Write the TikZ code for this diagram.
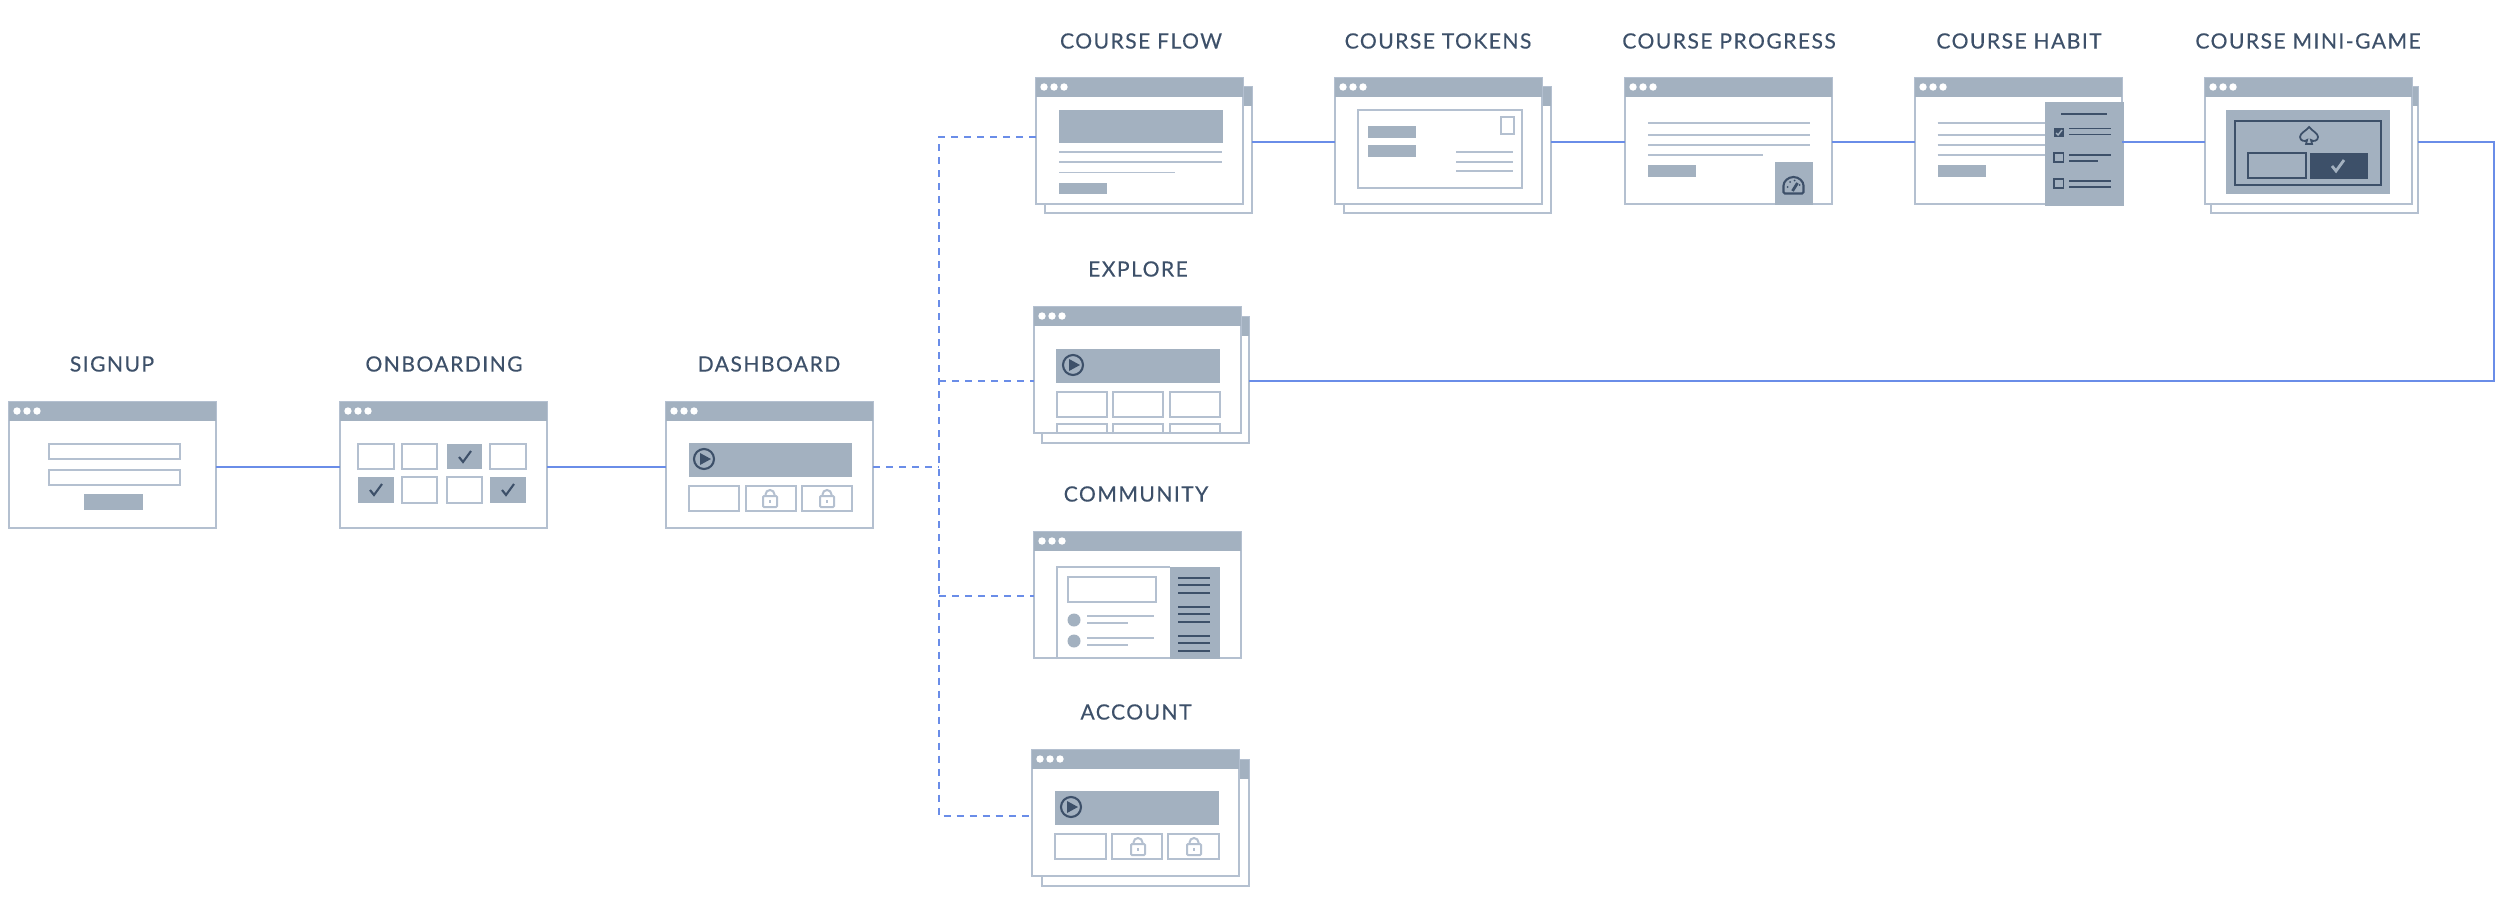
\documentclass[tikz,border=0pt]{standalone}
\usepackage{fontspec}
\setmainfont[LetterSpace=6.8,FakeBold=0.25]{Lato}
\definecolor{slate}{HTML}{A3B1C0}
\definecolor{edge}{HTML}{B4C0D0}
\definecolor{ink}{HTML}{3D5069}
\definecolor{link}{HTML}{6A8DE8}
\tikzset{
  window/.style={draw=edge,fill=white,line width=0.57pt,rectangle,inner sep=0pt,outer sep=0pt,
    minimum width=2.07cm,minimum height=1.26cm,anchor=north west},
  pagelabel/.style={text=ink,font=\fontsize{6}{7}\selectfont,inner sep=0pt},
  cell/.style={draw=edge,line width=0.57pt},
  rule/.style={draw=edge,line width=0.55pt},
  darkrule/.style={draw=ink,line width=0.5pt},
  flow/.style={draw=link,line width=0.57pt},
  dashflow/.style={flow,dash pattern=on 2pt off 1.7pt}
}
\newcommand{\screen}[3]{
  \node[window] (#1) at (#2,#3) {};
  \fill[slate] (#1.north west) rectangle ([shift={(0,19)}]#1.north east);
  \foreach \d in {8,18,28}
    \fill[white] ([shift={(\d,9)}]#1.north west) circle (0.037cm);
}
\newcommand{\playicon}[2]{
  \begin{scope}[shift={(#1,#2)}]
    \draw[ink,line width=0.6pt] (0,0) circle (0.1cm);
    \fill[ink] (-4,-6) -- (7,0) -- (-4,6) -- cycle;
  \end{scope}
}
\newcommand{\lockicon}[2]{
  \begin{scope}[shift={(#1,#2)}]
    \draw[cell,rounded corners=0.3pt] (-7,6) rectangle (7,17);
    \draw[cell] (-4.5,6) -- (-4.5,4.5) arc[start angle=180,end angle=0,radius=0.045cm] -- (4.5,6);
    \draw[cell] (0,10) -- (0,13);
  \end{scope}
}
\newcommand{\tickicon}[4][0.6pt]{
  \draw[#4,line width=#1] (#2-6,#3) -- (#2-2,#3+5) -- (#2+6,#3-6);
}
\begin{document}
\begin{tikzpicture}[x=0.01cm,y=-0.01cm]
  \useasboundingbox (0,0) rectangle (2500,903);
  \draw
    (112,364) node[pagelabel] (signuplabel){SIGNUP}
    (444,364) node[pagelabel] (onboardinglabel){ONBOARDING}
    (769,364) node[pagelabel] (dashboardlabel){DASHBOARD}
    (1141,41) node[pagelabel] (flowlabel){COURSE FLOW}
    (1438,41) node[pagelabel] (tokenslabel){COURSE TOKENS}
    (1729,41) node[pagelabel] (progresslabel){COURSE PROGRESS}
    (2019,41) node[pagelabel] (habitlabel){COURSE HABIT}
    (2308,41) node[pagelabel] (minigamelabel){COURSE MINI-GAME}
    (1138,269) node[pagelabel] (explorelabel){EXPLORE}
    (1136,494) node[pagelabel] (communitylabel){COMMUNITY}
    (1136,712) node[pagelabel] (accountlabel){ACCOUNT};

  % first row
  \screen{signup}{9}{402}
  \draw[cell] (49,444) rectangle (180,459);
  \draw[cell] (49,470) rectangle (180,485);
  \fill[slate] (84,494) rectangle (143,510);

  \screen{onboarding}{340}{402}
  \foreach \a/\b in {358/394,402/437,490/526}
    \draw[cell] (\a,444) rectangle (\b,469);
  \foreach \a/\b in {402/437,447/482}
    \draw[cell] (\a,477) rectangle (\b,503);
  \fill[slate] (447,444) rectangle (482,469);
  \fill[slate] (358,477) rectangle (394,503);
  \fill[slate] (490,477) rectangle (526,503);
  \tickicon{465}{457}{ink}
  \tickicon{376}{490}{ink}
  \tickicon{508}{490}{ink}

  \screen{dashboard}{666}{402}
  \fill[slate] (689,443) rectangle (852,477);
  \playicon{704}{459}
  \foreach \a/\b in {689/739,746/796,802/852}
    \draw[cell] (\a,486) rectangle (\b,511);
  \lockicon{770}{490}
  \lockicon{827}{490}

  % course row
  \screen{flowback}{1045}{87}
  \screen{flow}{1036}{78}
  \fill[slate] (1059,110) rectangle (1223,143);
  \draw[rule] (1059,152) -- (1222,152) (1059,162) -- (1222,162) (1059,172.5) -- (1175,172.5);
  \fill[slate] (1059,183) rectangle (1107,194);

  \screen{tokensback}{1344}{87}
  \screen{tokens}{1335}{78}
  \draw[cell] (1358,110) rectangle (1522,188);
  \fill[slate] (1368,126) rectangle (1416,138);
  \fill[slate] (1368,145) rectangle (1416,157);
  \draw[cell] (1501,117) rectangle (1514,134);
  \draw[rule] (1456,152) -- (1513,152) (1456,162) -- (1513,162) (1456,171) -- (1513,171);

  \screen{progress}{1625}{78}
  \draw[rule] (1648,123) -- (1810,123) (1648,135) -- (1810,135) (1648,145) -- (1810,145) (1648,155) -- (1763,155);
  \fill[slate] (1648,165) rectangle (1696,177);
  \fill[slate] (1775,162) rectangle (1813,205);
  \begin{scope}[shift={(1793.5,187)}]
    \draw[ink,line width=0.6pt,rounded corners=0.4pt] (-10,6.5) -- (-10,0) arc[start angle=180,end angle=0,radius=0.1cm] -- (10,6.5) -- cycle;
    \draw[ink,line width=0.8pt] (-1,4) -- (4,-4);
    \fill[ink] (-6,0) circle (0.01cm) (-3.5,-5) circle (0.01cm) (1,-6.5) circle (0.01cm) (6,-2) circle (0.01cm);
  \end{scope}

  \screen{habit}{1915}{78}
  \draw[rule] (1937.5,123) -- (2045,123) (1937.5,135) -- (2045,135) (1937.5,145) -- (2045,145) (1937.5,155) -- (2045,155);
  \fill[slate] (1937.5,165) rectangle (1986,177);
  \fill[slate] (2045,102) rectangle (2123.5,205.5);
  \draw[darkrule] (2061,114) -- (2107,114);
  \fill[ink] (2054,128) rectangle (2063.5,137);
  \draw[slate,line width=0.4pt] (2056,133) -- (2058,135) -- (2062,130);
  \draw[ink,line width=0.5pt] (2054,153) rectangle (2063.5,162);
  \draw[ink,line width=0.5pt] (2054,179) rectangle (2063.5,188);
  \draw[darkrule] (2069,128.5) -- (2111,128.5) (2069,134.5) -- (2111,134.5)
    (2069,155) -- (2111,155) (2069,161) -- (2097.5,161)
    (2069,181) -- (2111,181) (2069,187) -- (2111,187);

  \screen{minigameback}{2211}{87}
  \screen{minigame}{2205}{78}
  \fill[slate] (2226,110) rectangle (2390,194);
  \draw[ink,line width=0.5pt] (2235,121) rectangle (2381,185);
  \draw[ink,line width=0.5pt] (2248,153) rectangle (2306,178);
  \fill[ink] (2310,152.5) rectangle (2368,178.5);
  \tickicon[0.8pt]{2338}{166}{slate}
  \begin{scope}[shift={(2309,136)}]
    \draw[ink,line width=0.5pt] (0,-9) .. controls (-3,-5) and (-9,-3) .. (-9,1)
      .. controls (-9,5) and (-4,6) .. (-2,4) -- (-3,8) -- (3,8) -- (2,4)
      .. controls (4,6) and (9,5) .. (9,1) .. controls (9,-3) and (3,-5) .. (0,-9) -- cycle;
  \end{scope}

  % side pages
  \screen{exploreback}{1042}{317}
  \screen{explore}{1034}{307}
  \fill[slate] (1056,349) rectangle (1220,383);
  \playicon{1073}{365}
  \foreach \a/\b in {1057/1107,1113/1163,1170/1220} {
    \draw[cell] (\a,392) rectangle (\b,417);
    \draw[cell] (\a,434) |- (\b,424) -- (\b,434);
  }

  \screen{community}{1034}{532}
  \draw[cell] (1057,659) |- (1170,567);
  \fill[slate] (1170,567) rectangle (1220,659);
  \draw[cell] (1068,577) rectangle (1156,602);
  \fill[slate] (1074,620) circle (0.065cm) (1074,641) circle (0.065cm);
  \draw[rule] (1087,616) -- (1154,616) (1087,623) -- (1128,623) (1087,638) -- (1154,638) (1087,645) -- (1128,645);
  \foreach \b in {578,585,593,607,614,622,636,643,651}
    \draw[darkrule] (1178,\b) -- (1210,\b);

  \screen{accountback}{1042}{760}
  \screen{account}{1032}{750}
  \fill[slate] (1055,791) rectangle (1219,825);
  \playicon{1071}{807}
  \foreach \a/\b in {1055/1106,1112/1162,1168/1219}
    \draw[cell] (\a,834) rectangle (\b,859);
  \lockicon{1138}{838}
  \lockicon{1194}{838}

  \coordinate (rowmain) at (0,467);
  \coordinate (rowtop) at (0,142);
  \coordinate (rowback) at (0,381);
  \coordinate (turn) at (2494,0);
  \coordinate (trunk) at (939,0);
  \coordinate (tapflow) at (0,137);
  \coordinate (tapcommunity) at (0,596);
  \coordinate (tapaccount) at (0,816);

  \begin{scope}[flow]
    \draw (signup.east |- rowmain) to (onboarding.west |- rowmain);
    \draw (onboarding.east |- rowmain) to (dashboard.west |- rowmain);
    \draw (flowback.east |- rowtop) to (tokens.west |- rowtop);
    \draw (tokensback.east |- rowtop) to (progress.west |- rowtop);
    \draw (progress.east |- rowtop) to (habit.west |- rowtop);
    \draw (habit.east |- rowtop) to (minigame.west |- rowtop);
    \draw (minigameback.east |- rowtop) -- (turn |- rowtop) -- (turn |- rowback) -- (exploreback.east |- rowback);
  \end{scope}
  \begin{scope}[dashflow]
    \draw (dashboard.east |- rowmain) to (trunk |- rowmain);
    \draw (flow.west |- tapflow) -- (trunk |- tapflow) -- (trunk |- tapaccount) -- (account.west |- tapaccount);
    \draw (trunk |- rowback) to (explore.west |- rowback);
    \draw (trunk |- tapcommunity) to (community.west |- tapcommunity);
  \end{scope}
\end{tikzpicture}
\end{document}
